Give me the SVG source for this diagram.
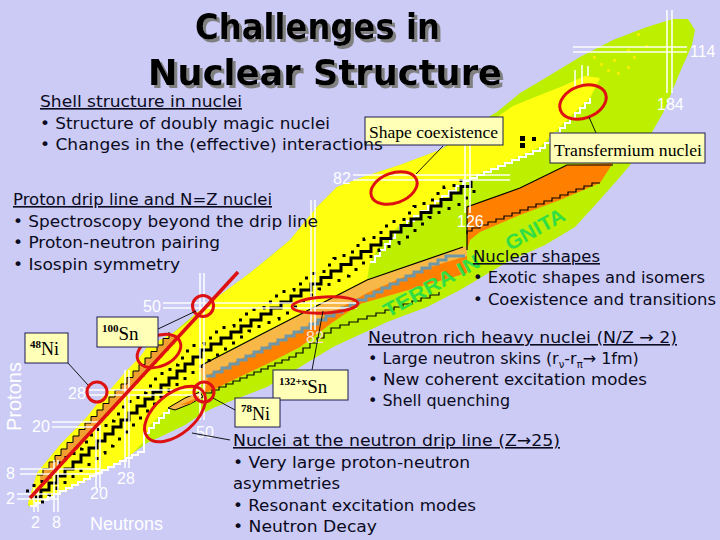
<svg xmlns="http://www.w3.org/2000/svg" xmlns:xlink="http://www.w3.org/1999/xlink" width="720" height="540" viewBox="0 0 720 540">
<defs>
<style>
.body{font-family:"DejaVu Sans","Liberation Sans",sans-serif;font-size:16px;fill:#0a0a20}
.hd{text-decoration:underline}
.title{font-family:"DejaVu Sans","Liberation Sans",sans-serif;font-weight:bold;font-size:36px;fill:#000}
.lbl{font-family:"Liberation Sans",Arial,sans-serif;font-size:16px;fill:#fff}
.callout rect{fill:#ffffb8;stroke:#1a1a50;stroke-width:1}
.ctext{font-family:"Liberation Serif","Times New Roman",serif;font-size:17px;fill:#000}
.sup{font-weight:bold;font-size:11px}
.red{fill:none;stroke:#dd1111;stroke-width:3}
.lead{fill:none;stroke:#000;stroke-width:0.9}
.magic{fill:none;stroke:#fff;stroke-width:1.6;opacity:0.95}
.terra{font-family:"Liberation Sans",Arial,sans-serif;font-weight:bold;font-size:20px;fill:#33dd44}
</style>
<filter id="sh" x="-5%" y="-5%" width="115%" height="130%"><feDropShadow dx="3" dy="3" stdDeviation="0.7" flood-color="#808080" flood-opacity="1"/></filter>
<path id="stair" d="M33,497h8v-7h8v-7h8v-7h8v-7h8v-7h8v-7h8v-7h8v-7h8v-7h8v-7h8v-7h8v-7h8v-7h8v-7h8v-7h8v-7h8v-7h8v-7h8v-7h8v-7h8v-7h10v-6h10v-6h10v-6h10v-6h10v-6h10v-6h10v-6h10v-6h10v-6h10v-6h10v-6h10v-6.5h10v-6.5h10v-6.5h10v-6.5h10v-6.5h10v-6.5h10v-6.5h10v-6.5h10v-6.5h10v-6.5h10v-6.5h10v-6.5h10v-6.5h10v-6.5h10v-6.5h10v-6.5"/>
<path id="pdrip" d="M40,478h6v-6.5h6v-6.5h6v-6.5h6v-6.5h6v-6.5h6v-6.5h6v-6.5h6v-6.5h6v-6.5h6v-6.5h6v-6.5h6v-6.5h6v-6.5h6v-6.5h6v-6.5h6v-6.5h6v-6.5h6v-6.5h6v-6.5h6v-6.5h6v-6.5h6v-6.5"/>
</defs>
<rect x="0" y="0" width="720" height="540" fill="#cbcbf6"/>

<g id="chart">
<polygon fill="#bcf000" points="28,505 37,473 60,445 87,417 110,390 140,357 173,333 200,310 250,273 290,240 317,207 337,187 363,177 400,165 440,150 480,122 497,112 520,93 547,77 580,57 613,40 647,27 673,19 688,19 695,30 692,45 680,72 663,113 640,153 620,177 597,203 575,227 545,245 507,262 460,290 427,307 387,322 333,347 267,387 213,408 200,415 185,425 160,437 147,443 133,453 110,467 87,480 67,490 43,500 30,507"/>
<polygon fill="#ffff10" points="28,503 37,473 60,445 87,417 100,400 110,390 127,370 140,357 147,347 173,333 187,323 200,310 220,295 250,273 270,257 290,240 317,207 337,187 363,177 400,165 440,150 487,124 513,106 540,95 563,86 585,76 600,78 590,98 567,120 540,147 513,160 490,170 463,180 447,197 423,213 400,225 380,245 370,262 367,280 203,363 197,392 172,405 150,425 145,440 133,453 110,467 87,480 67,490 43,500 30,506"/>
<g fill="#eef200">
<rect x="593" y="56" width="3" height="3"/><rect x="600" y="63" width="3" height="3"/><rect x="613" y="59" width="3" height="3"/><rect x="627" y="49" width="3" height="3"/><rect x="637" y="33" width="3" height="3"/><rect x="627" y="66" width="3" height="3"/><rect x="617" y="72" width="3" height="3"/><rect x="633" y="56" width="3" height="3"/><rect x="607" y="69" width="3" height="3"/><rect x="645" y="45" width="3" height="3"/>
</g>
<path d="M575,88v-18M582,85v-20M588,76v-10" stroke="#fff" stroke-width="1.5" fill="none"/>
<path d="M370,262h5v-6h5v-6h5v-6h5v-6h5v-6h5v-6h7v-5h7v-5h7v-5h7v-5h7v-5h7v-5h7v-5h7v-5h7v-5h7v-3h7v-3h7v-3h7v-3h7v-3h7v-3h7v-3h7v-3h7v-3h7v-3h7v-3h5v-5h5v-5h5v-5h5v-5h5v-5h5v-5h5v-5h5v-5h5v-5h5v-5" fill="none" stroke="#fff" stroke-width="2"/>
<path d="M30,506h6v-3h6v-3h6v-3h6v-3h6v-3h6v-3h6v-3h6v-3h6v-3h6v-3h6v-3h6v-3h6v-3h6v-3h6v-3h6v-3h6v-3h6v-3h6v-3V433h5v-5h5v-5h5v-5h5v-5h5v-5h6v-3h6v-3h6v-3h6v-3" fill="none" stroke="#fff" stroke-width="2"/>
<!-- neutron-rich orange band, left part -->
<polygon fill="#f8b848" points="200,366 367,280 463,247 467,247 467,273 360,304 333,322 300,347 267,364 233,380 213,390 204,393"/>
<polygon fill="#ff8000" points="208,375 267,346 300,330 340,308 367,293 420,270 467,256 467,273 360,304 333,322 300,347 267,364 233,380 213,390 205,393"/>
<path d="M206,376h8v-4h8v-4h8v-4h8v-4h8v-4h8v-4h8v-4h8v-4h8v-4h8v-4h8v-4h8v-4h8v-4h8v-4h8v-4h8v-4h8v-4h8v-4h8v-4h8v-4h8v-4h8v-4h8v-4h8v-4h8v-4h8v-4h8v-4h8v-4h8v-4h8v-4h19" fill="none" stroke="#6e98a8" stroke-width="3"/>
<path d="M200,366L367,280L463,247" fill="none" stroke="#000" stroke-width="1.2"/>
<path d="M205,393h7v-3h7v-3h7v-3h7v-3h7v-3h7v-3h7v-3h7v-3h7v-3h7v-3h7v-3h7v-3h7v-4h7v-5h7v-5h7v-5h7v-5h7v-5h9v-3h9v-3h9v-3h9v-3h9v-3h9v-3h9v-3h9v-3h9v-3h9v-3h9v-3h9v-3" fill="none" stroke="#000" stroke-width="1.2"/>
<!-- right part -->
<polygon fill="#ff8000" points="467,207 520,188 567,165 613,163 600,183 560,200 520,215 480,232 470,240 467,250"/>
<path d="M467,250V207L520,188L567,165H613" fill="none" stroke="#000" stroke-width="1.2"/>
<path d="M600,183h-8v3h-8v3h-8v3h-8v3h-8v3h-8v3h-8v3h-8v3h-8v3h-8v3h-8v3h-8v3h-8v3h-8v3h-8v3h-8v3h-5v3" fill="none" stroke="#000" stroke-width="1.2"/>
<!-- small piece near 78Ni -->
<polygon points="168,408 185,398 200,392 203,397 190,404 175,410" fill="#f8b848" stroke="#000" stroke-width="1"/>
<polygon points="180,405 192,400 200,397 190,404" fill="#ff8000"/>
<!-- proton-rich steps -->
<use xlink:href="#pdrip" fill="none" stroke="#f0a030" stroke-width="6"/>
<use xlink:href="#pdrip" transform="translate(-3,-3)" fill="none" stroke="#000" stroke-width="1"/>
<!-- valley of stability -->
<use xlink:href="#stair" fill="none" stroke="#000" stroke-width="3"/>
<use xlink:href="#stair" transform="translate(-7,-6)" fill="none" stroke="#000" stroke-width="3" stroke-dasharray="3 9"/>
<use xlink:href="#stair" transform="translate(8,5)" fill="none" stroke="#000" stroke-width="3" stroke-dasharray="3 11"/>
<rect x="520" y="136" width="5" height="5"/><rect x="520" y="143" width="5" height="5"/><rect x="532" y="137" width="4" height="4"/>
<!-- magic number lines -->
<path class="magic" d="M17,494H58M17,499H58M20,469H100M20,474H100M52,422H100M52,427H100M85,390H200M85,395H200M163,303H357M163,308H357M353,175H510M353,180H510M573,47H687M573,52H687M34,488V512M38,488V512M54,460V512M58,460V512M96,425V488M100,425V488M125,370V468M129,370V468M200,273V420M204,273V420M311,200V330M315,200V330M465,140V213M470,140V213M667,10V93M672,10V93"/>
<g class="lbl">
<text x="690" y="57">114</text>
<text x="657" y="110">184</text>
<text x="333" y="184">82</text>
<text x="457" y="227">126</text>
<text x="143" y="312">50</text>
<text x="306" y="343" fill="#ffe0d0">82</text>
<text x="68" y="399">28</text>
<text x="32" y="432">20</text>
<text x="6" y="479">8</text>
<text x="6" y="504">2</text>
<text x="196" y="438">50</text>
<text x="117" y="484">28</text>
<text x="90" y="499">20</text>
<text x="31" y="528">2</text>
<text x="52" y="528">8</text>
<text x="90" y="530" font-size="18">Neutrons</text>
<text transform="translate(21,431) rotate(-90)" font-size="20">Protons</text>
</g>
<text class="terra" transform="translate(388,318) rotate(-29)" textLength="107" lengthAdjust="spacingAndGlyphs">TERRA IN</text>
<text class="terra" transform="translate(510,251) rotate(-29)" textLength="65" lengthAdjust="spacingAndGlyphs">GNITA</text>
<!-- red markers -->
<path d="M30,498L238,272" stroke="#dd1111" stroke-width="3.5" fill="none"/>
<circle class="red" cx="97" cy="392" r="10"/>
<circle class="red" cx="203" cy="306" r="10.5"/>
<ellipse class="red" cx="159" cy="351" rx="23" ry="15" transform="rotate(-25 159 351)"/>
<ellipse class="red" cx="175" cy="414" rx="36" ry="20" transform="rotate(-40 175 414)"/>
<circle class="red" cx="204" cy="392" r="10"/>
<ellipse class="red" cx="325" cy="305" rx="33" ry="8" transform="rotate(-3 325 305)"/>
<ellipse class="red" cx="394" cy="188" rx="24" ry="15" transform="rotate(-20 394 188)"/>
<ellipse class="red" cx="583" cy="102" rx="24" ry="16" transform="rotate(-20 583 102)"/>
</g>

<g id="connectors">
<path class="lead" d="M443,146L416,174"/>
<path class="lead" d="M596,133L589,117"/>
<path class="lead" d="M158,329L196,311"/>
<path class="lead" d="M68,363L88,385"/>
<path class="lead" d="M312,370L323,311"/>
<path class="lead" d="M235,410L213,398"/>
<path class="lead" d="M192,433L230,440"/>
</g>

<g id="node-shape-coexistence" class="callout">
<rect x="365" y="117" width="138" height="28"/>
<text class="ctext" x="369" y="138" textLength="129" lengthAdjust="spacingAndGlyphs">Shape coexistence</text>
</g>
<g id="node-transfermium" class="callout">
<rect x="550" y="133" width="155" height="30"/>
<text class="ctext" x="554" y="156" textLength="148" lengthAdjust="spacingAndGlyphs">Transfermium nuclei</text>
</g>
<g id="node-48ni" class="callout">
<rect x="25" y="333" width="43" height="30"/>
<text class="ctext" x="30" y="355"><tspan class="sup" dy="-7">48</tspan><tspan dy="7" font-size="18">Ni</tspan></text>
</g>
<g id="node-100sn" class="callout">
<rect x="97" y="317" width="61" height="30"/>
<text class="ctext" x="102" y="340"><tspan class="sup" font-size="12" dy="-8">100</tspan><tspan dy="8" font-size="19">Sn</tspan></text>
</g>
<g id="node-132sn" class="callout">
<rect x="273" y="370" width="75" height="30"/>
<text class="ctext" x="279" y="393"><tspan class="sup" font-size="12" dy="-8">132+x</tspan><tspan dy="8" font-size="19">Sn</tspan></text>
</g>
<g id="node-78ni" class="callout">
<rect x="235" y="398" width="45" height="29"/>
<text class="ctext" x="241" y="420"><tspan class="sup" font-size="12" dy="-8">78</tspan><tspan dy="8" font-size="18">Ni</tspan></text>
</g>

<g id="title" filter="url(#sh)">
<text class="title" x="195" y="39" textLength="245" lengthAdjust="spacingAndGlyphs">Challenges in</text>
<text class="title" x="148" y="85" textLength="354" lengthAdjust="spacingAndGlyphs">Nuclear Structure</text>
</g>

<g id="text-shell" class="body">
<text class="hd" x="40" y="107" textLength="202" lengthAdjust="spacingAndGlyphs">Shell structure in nuclei</text>
<text x="40" y="129" textLength="290" lengthAdjust="spacingAndGlyphs">•  Structure of doubly magic nuclei</text>
<text x="40" y="150" textLength="343" lengthAdjust="spacingAndGlyphs">•  Changes in the (effective) interactions</text>
</g>
<g id="text-proton" class="body">
<text class="hd" x="13" y="205" textLength="259" lengthAdjust="spacingAndGlyphs">Proton drip line and N=Z nuclei</text>
<text x="13" y="227" textLength="305" lengthAdjust="spacingAndGlyphs">•  Spectroscopy beyond the drip line</text>
<text x="13" y="248" textLength="207" lengthAdjust="spacingAndGlyphs">•  Proton-neutron pairing</text>
<text x="13" y="270" textLength="167" lengthAdjust="spacingAndGlyphs">•  Isospin symmetry</text>
</g>
<g id="text-shapes" class="body">
<text class="hd" x="473" y="262" textLength="127" lengthAdjust="spacingAndGlyphs">Nuclear shapes</text>
<text x="473" y="283" textLength="232" lengthAdjust="spacingAndGlyphs">• Exotic shapes and isomers</text>
<text x="473" y="305" textLength="243" lengthAdjust="spacingAndGlyphs">• Coexistence and transitions</text>
</g>
<g id="text-neutronrich" class="body">
<text class="hd" x="368" y="343" textLength="309" lengthAdjust="spacingAndGlyphs">Neutron rich heavy nuclei (N/Z → 2)</text>
<text x="368" y="364">• Large neutron skins (r<tspan font-size="10" dy="4">ν</tspan><tspan dy="-4">-r</tspan><tspan font-size="10" dy="4">π</tspan><tspan dy="-4">→ 1fm)</tspan></text>
<text x="368" y="385" textLength="279" lengthAdjust="spacingAndGlyphs">• New coherent excitation modes</text>
<text x="368" y="406" textLength="142" lengthAdjust="spacingAndGlyphs">• Shell quenching</text>
</g>
<g id="text-dripline" class="body">
<text class="hd" x="233" y="446" textLength="327" lengthAdjust="spacingAndGlyphs">Nuclei at the neutron drip line (Z→25)</text>
<text x="233" y="468" textLength="237" lengthAdjust="spacingAndGlyphs">•  Very large proton-neutron</text>
<text x="233" y="489" textLength="107" lengthAdjust="spacingAndGlyphs">asymmetries</text>
<text x="233" y="511" textLength="243" lengthAdjust="spacingAndGlyphs">•  Resonant excitation modes</text>
<text x="233" y="532" textLength="144" lengthAdjust="spacingAndGlyphs">•  Neutron Decay</text>
</g>
</svg>
